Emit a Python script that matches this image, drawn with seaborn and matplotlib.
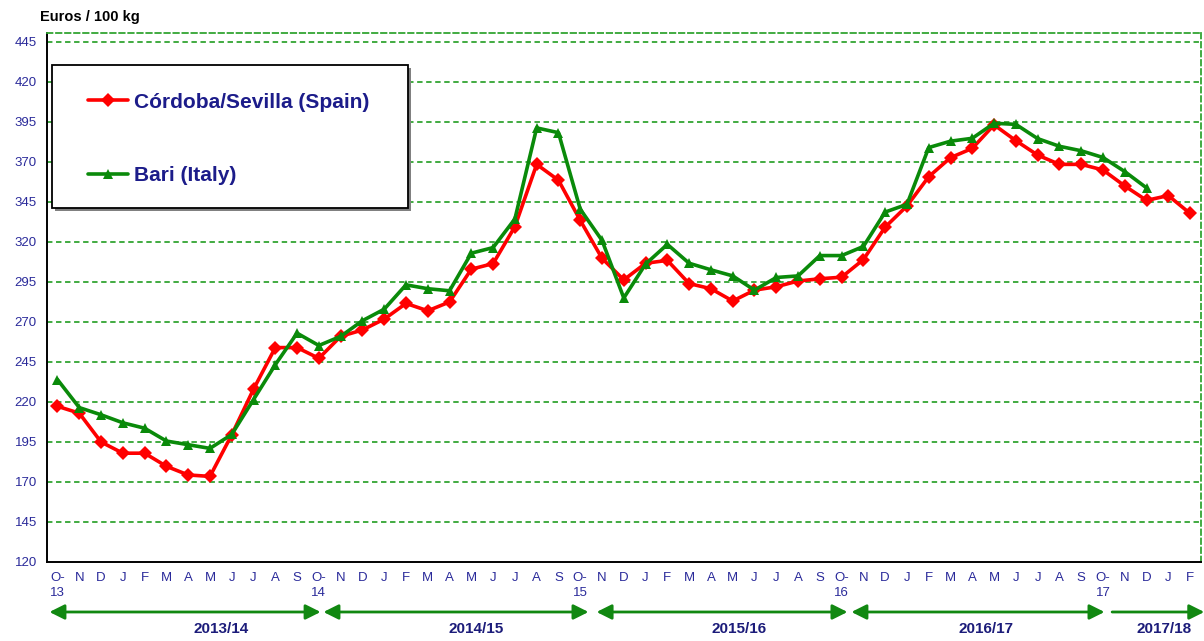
import numpy as np
import pandas as pd
import matplotlib
matplotlib.use("Agg")
import matplotlib.pyplot as plt
import seaborn as sns
from matplotlib.patches import FancyBboxPatch

# ---------------- data ----------------
months = ["O-\n13", "N", "D", "J", "F", "M", "A", "M", "J", "J", "A", "S",
          "O-\n14", "N", "D", "J", "F", "M", "A", "M", "J", "J", "A", "S",
          "O-\n15", "N", "D", "J", "F", "M", "A", "M", "J", "J", "A", "S",
          "O-\n16", "N", "D", "J", "F", "M", "A", "M", "J", "J", "A", "S",
          "O-\n17", "N", "D", "J", "F"]

spain = [217.3, 213, 195, 188, 188, 179.8, 174.4, 173.5, 199.5, 228, 254, 254,
         247.3, 261, 265, 271.8, 281.6, 277, 282.5, 303, 306.5, 329.6, 368.5, 358.6,
         333.5, 309.8, 296.3, 306.7, 308.5, 294, 290.8, 283.1, 289.9, 292, 295.6, 297,
         298, 309, 329.3, 342.5, 360.8, 372.7, 378.5, 393.2, 383.3, 374.3, 368.5, 368.5,
         365, 355, 346, 349, 337.8]

italy = [234, 216.5, 212, 207, 203.6, 195.6, 193.3, 191, 199.7, 221.5, 243.3, 263,
         255.3, 261, 270.8, 278, 293.2, 290.8, 289.5, 313, 316.5, 334.4, 391.3, 388.3,
         340.5, 321, 285, 306.2, 318.5, 306.7, 302.6, 298.8, 289.9, 297.8, 298.8, 311.5,
         311.5, 317.2, 338.7, 343.5, 379, 383, 384.8, 394.2, 393.5, 384.6, 379.8, 377,
         372.8, 364, 353.8, np.nan, np.nan]

series_names = ["Córdoba/Sevilla (Spain)", "Bari (Italy)"]
y_ticks = [120, 145, 170, 195, 220, 245, 270, 295, 320, 345, 370, 395, 420, 445]
seasons = ["2013/14", "2014/15", "2015/16", "2016/17", "2017/18"]

# ---------------- layout / style ----------------
season_label_x = [7.53, 19.24, 31.3, 42.65, 50.8]
arrow_spans = [(-0.37, 12.08), (12.21, 24.38), (24.75, 36.27), (36.45, 48.07), (48.42, 52.65)]

navy = "#2a2a9a"
grid_green = "#33a533"

idx = np.arange(len(months))
df = pd.DataFrame({
    "idx": np.concatenate([idx, idx]),
    "value": np.concatenate([spain, italy]),
    "series": [series_names[0]] * len(idx) + [series_names[1]] * len(idx),
})

sns.set_style("white")
plt.rcParams["font.family"] = ["Liberation Sans", "DejaVu Sans"]

fig = plt.figure(figsize=(12.04, 6.41), dpi=100)
ax = fig.add_axes([46.6 / 1204, 1 - 562 / 641, (1201 - 46.6) / 1204, (562 - 33) / 641])

sns.lineplot(data=df, x="idx", y="value", hue="series", style="series",
             palette={series_names[0]: "#ff0000", series_names[1]: "#0a8a0a"},
             markers={series_names[0]: "D", series_names[1]: "^"},
             dashes=False, linewidth=2.6, markersize=7.5, markeredgewidth=0,
             ax=ax, legend=True, zorder=3)
for ln in ax.get_lines():
    if ln.get_marker() == "D":
        ln.set_markersize(6.8)

ax.set_xlim(-0.5, 52.5)
ax.set_ylim(120, 450.6)

# horizontal dashed grid
for y in y_ticks[1:]:
    ax.axhline(y, color=grid_green, lw=1.3, ls=(0, (3, 2)), zorder=1)

ax.set_yticks(y_ticks)
ax.set_yticklabels([str(v) for v in y_ticks], color=navy, fontsize=9.5)
ax.set_xticks(idx)
ax.set_xticklabels(months, color=navy, fontsize=9.5, linespacing=1.35, va="top")
ax.set_xticks(np.arange(-0.5, 53, 1.0), minor=True)
ax.tick_params(axis="x", which="both", direction="inout", length=8, width=1.2, pad=3)
ax.tick_params(axis="y", direction="out", length=5, width=1.2, pad=2)
ax.set_xlabel("")
ax.set_ylabel("")

for side in ["left", "bottom"]:
    ax.spines[side].set_color("black")
    ax.spines[side].set_linewidth(1.4)
for side in ["top", "right"]:
    ax.spines[side].set_color(grid_green)
    ax.spines[side].set_linewidth(1.3)
    ax.spines[side].set_linestyle((0, (3, 2)))

# legend box
box = FancyBboxPatch((0.0047, 0.669), 0.3083, 0.2705, boxstyle="square,pad=0",
                     transform=ax.transAxes, facecolor="white", edgecolor="black",
                     lw=1.3, zorder=4)
shadow = FancyBboxPatch((0.0047 + 0.0025, 0.669 - 0.006), 0.3083, 0.2705,
                        boxstyle="square,pad=0", transform=ax.transAxes,
                        facecolor="#808080", edgecolor="none", zorder=3.9)
ax.add_patch(shadow)
ax.add_patch(box)

handles, labels = ax.get_legend_handles_labels()
leg = ax.legend(handles, labels, loc="upper left", bbox_to_anchor=(0.036, 0.887),
                frameon=False, fontsize=15, handlelength=1.9, handletextpad=0.3,
                labelspacing=2.62, borderpad=0, borderaxespad=0)
leg.set_zorder(5)
for t in leg.get_texts():
    t.set_color("#1c1c8a")
    t.set_fontweight("bold")

# season arrows and labels
for (x0, x1), lab, lx in zip(arrow_spans, seasons, season_label_x):
    style = "-|>" if lab == "2017/18" else "<|-|>"
    ax.annotate("", xy=(x1, -0.0945), xytext=(x0, -0.0945),
                xycoords=("data", "axes fraction"), textcoords=("data", "axes fraction"),
                arrowprops=dict(arrowstyle=style + ",head_length=0.9,head_width=0.45",
                                color="#118811", lw=2, shrinkA=0, shrinkB=0),
                annotation_clip=False)
    ax.text(lx, -0.1267, lab, transform=ax.get_xaxis_transform(), ha="center", va="center",
            color="#1c1c7a", fontsize=11, fontweight="bold", clip_on=False)

fig.text(40 / 1204, 1 - 17 / 641, "Euros / 100 kg", ha="left", va="center",
         fontsize=10.5, fontweight="bold", color="black")

fig.savefig("out.png", dpi=100, facecolor="white")
